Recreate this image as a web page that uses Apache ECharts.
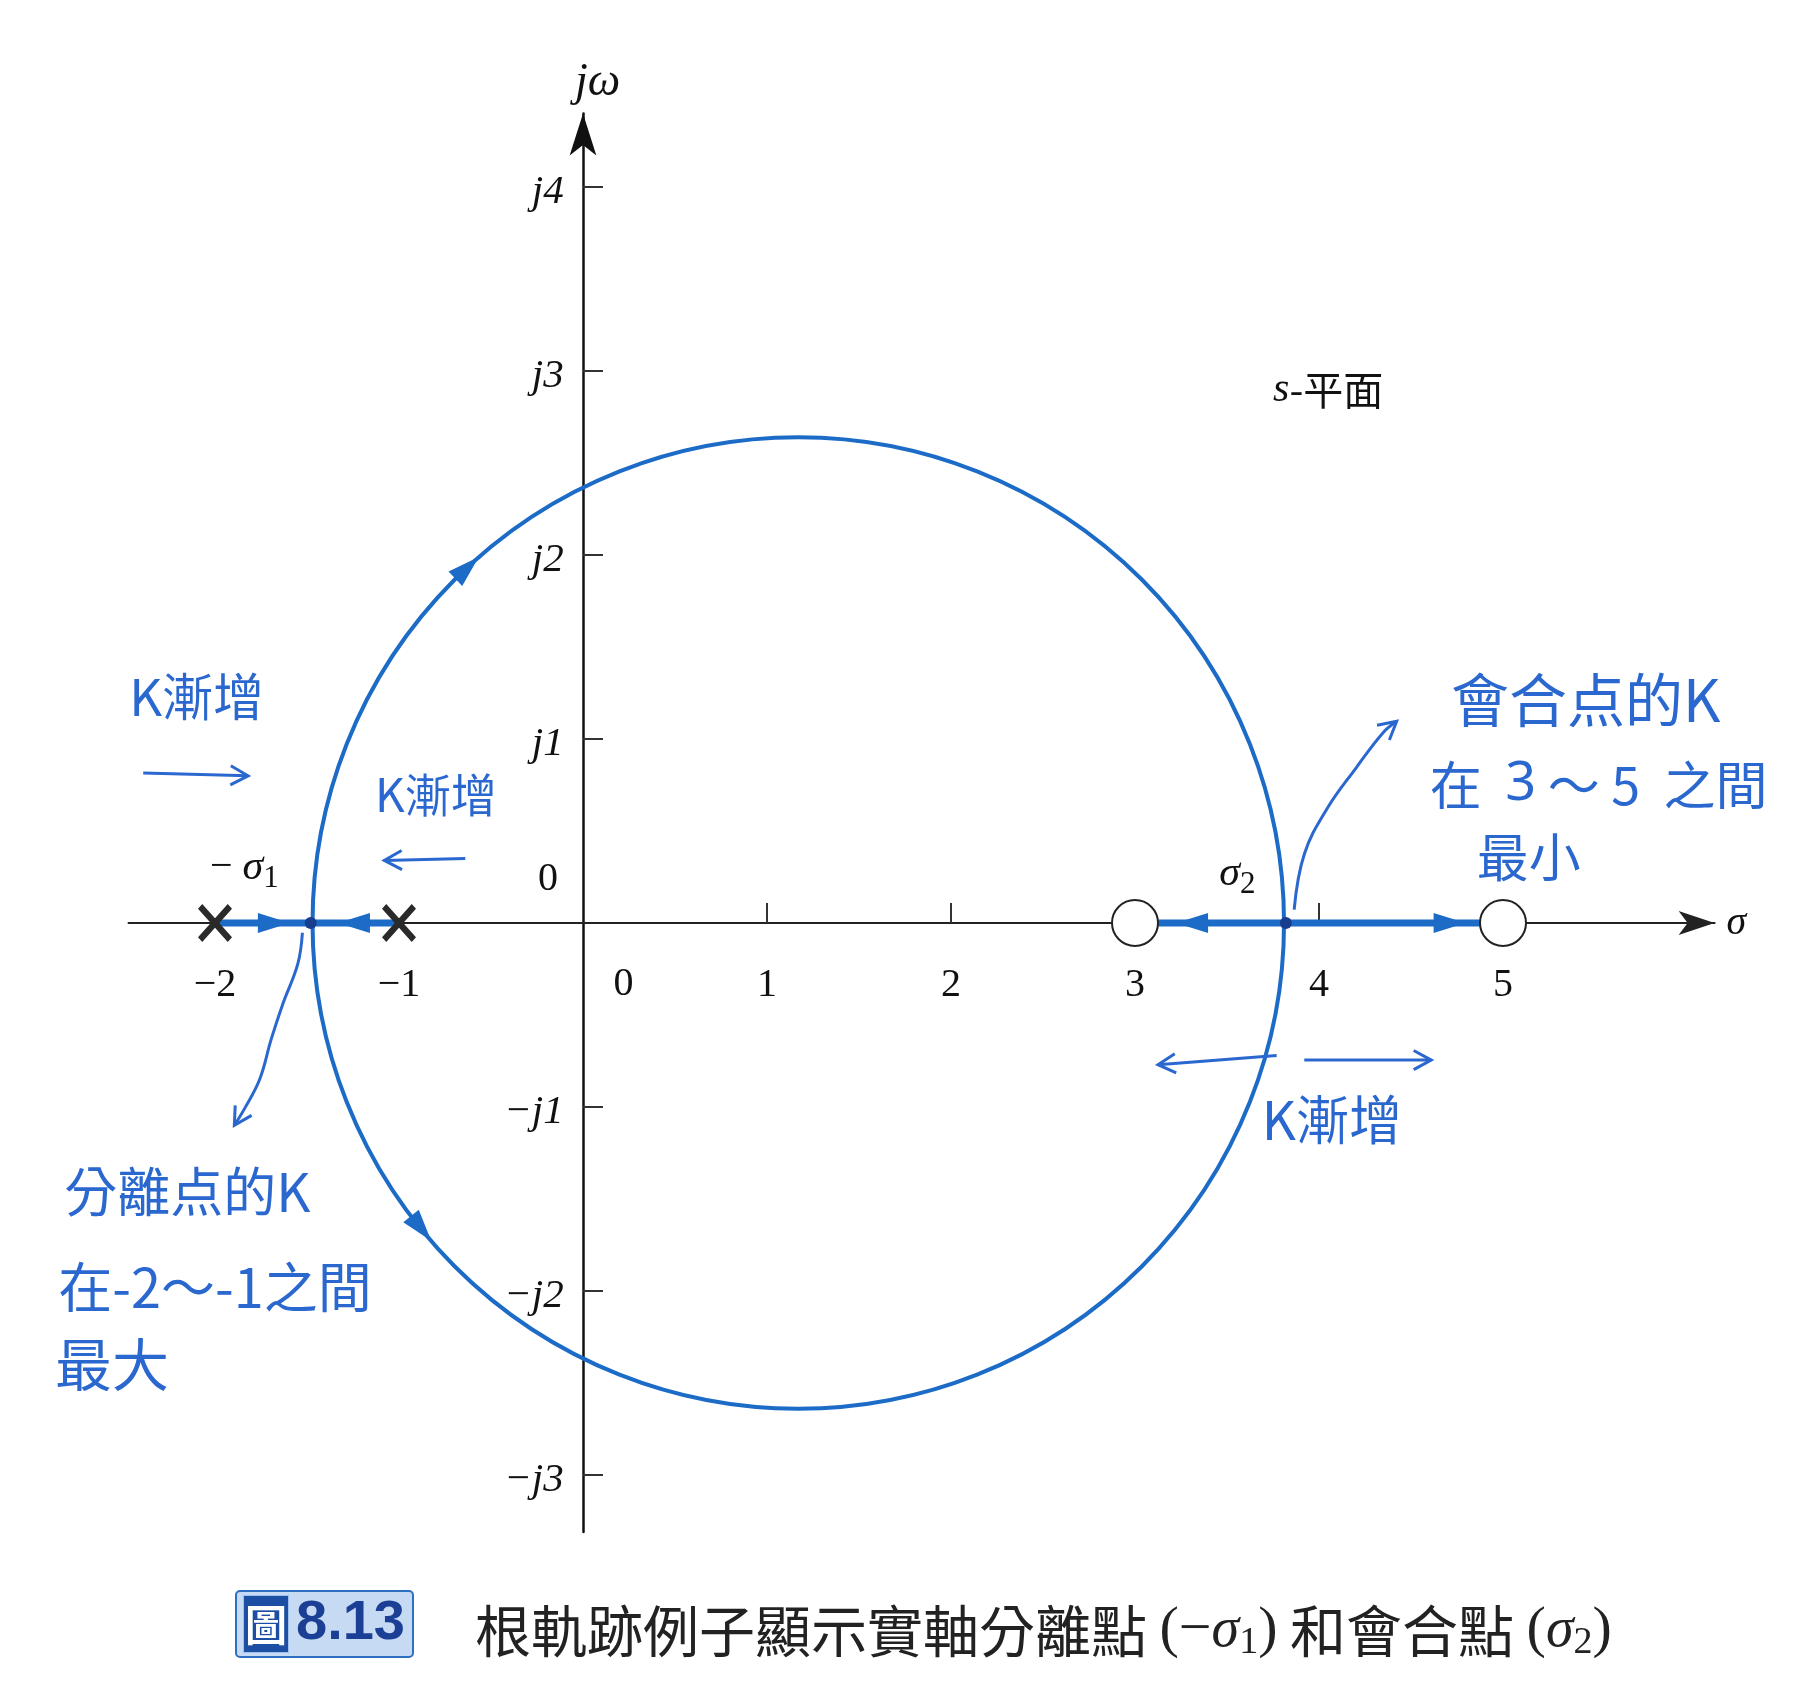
<!DOCTYPE html>
<html><head><meta charset="utf-8">
<script src="https://cdn.jsdelivr.net/npm/echarts@6/dist/echarts.min.js"></script>
<style>html,body{margin:0;padding:0;background:#fff}#c{width:1810px;height:1700px}</style>
</head><body><div id="c"></div>
<script>
// ---------- data ----------
const xRange = [-2.47, 6.15];
const yRange = [-3.31, 4.40];
const xTickValues = [1, 2, 4];
const xLabelValues = [-2, -1, 1, 2, 3, 4, 5];
const xLabelTexts = ['−2', '−1', '1', '2', '3', '4', '5'];
const yTickValues = [-3, -2, -1, 1, 2, 3, 4];
const yLabelTexts = ['−j3', '−j2', '−j1', 'j1', 'j2', 'j3', 'j4'];
const poles = [[-2, 0], [-1, 0]];
const zeros = [[3, 0], [5, 0]];
const breakPoints = [[-1.48, 0], [3.82, 0]];
const realLocusLeft = [[-2, 0], [-1, 0]];
const realLocusRight = [[3, 0], [5, 0]];
const locusCircle = [[1.17, 0, 2.64]];            // centre x, centre y, radius
const locusArrows = [                               // x, y, rotation (deg)
  [-1.68, 0, -90], [-1.245, 0, 90], [3.31, 0, 90], [4.71, 0, -90],
  [-0.63, 1.93, -47], [-0.88, -1.66, -141]
];
const printedLabelPos = [[-0.19, 0.236], [0.22, -0.335], [-1.84, 0.30], [3.556, 0.267], [4.05, 2.896], [0.08, 4.565]];
const printedLabels = ['0', '0', '− {s|σ}{sub|1}', '{s|σ}{sub|2}', '{s|s}-平面', '{s|jω}'];
const noteTextPos = [[-2.10, 1.23], [-0.80, 0.70], [5.45, 1.21], [5.52, 0.75], [5.14, 0.36],
  [-2.15, -1.46], [-2.00, -1.98], [-2.56, -2.40], [4.07, -1.07]];
const noteTexts = ['K漸增', 'K漸增', '會合点的K', '在  {t|3} ～ 5  之間', '最小',
  '分離点的K', '在-2～-1之間', '最大', 'K漸增'];
const noteStrokes = [
  [[-2.39, 0.815], [-1.82, 0.80]],
  [[-0.64, 0.35], [-1.08, 0.34]],
  [[3.77, -0.72], [3.125, -0.77]],
  [[3.92, -0.745], [4.61, -0.745]],
  [[3.865, 0.073], [3.92, 0.374], [4.046, 0.625], [4.203, 0.845], [4.347, 1.033], [4.422, 1.096]],
  [[-1.525, -0.053], [-1.55, -0.222], [-1.632, -0.441], [-1.694, -0.63], [-1.757, -0.849], [-1.838, -1.006], [-1.895, -1.1]]
];
const captionTag = '{a|圖}{b|8.13}';
const captionText = '根軌跡例子顯示實軸分離點 {p|(−}{s|σ}{sub|1}{p|)} 和會合點 {p|(}{s|σ}{sub|2}{p|)}';

// ---------- styles ----------
const BLUE = '#1b6bc7';
const HAND = '#2a68cf';
const SERIF = "'Liberation Serif','DejaVu Serif',serif";
const CJK = "'Noto Sans CJK TC','Noto Sans CJK SC',sans-serif";
const noteSizes = [51, 46, 58, 52, 52, 53, 54, 57, 53];
const serifRich = {
  s: { fontFamily: SERIF, fontStyle: 'italic', fontSize: 42, color: '#111' },
  sub: { fontFamily: SERIF, fontSize: 31, color: '#111', padding: [22, 0, 0, 0] }
};

const chart = echarts.init(document.getElementById('c'), null, { renderer: 'canvas' });
const U = 184;
const gridLeft = 583 + xRange[0] * U;
const gridTop = 923 - yRange[1] * U;

function textSeries(name, positions, texts, styleFn) {
  return {
    type: 'custom', name: name, z: 9, clip: false,
    data: positions.map((p, i) => [p[0], p[1], i]), encode: { x: 0, y: 1 },
    renderItem: (params, api) => {
      const i = api.value(2);
      const c = api.coord([api.value(0), api.value(1)]);
      return { type: 'text', x: c[0], y: c[1], style: Object.assign({ text: texts[i] }, styleFn(i)) };
    }
  };
}

chart.setOption({
  animation: false,
  backgroundColor: '#fff',
  title: [
    {
      text: captionTag, left: 237, top: 1589,
      backgroundColor: '#c6daf3', borderColor: '#2f6fc0', borderWidth: 2, borderRadius: 4,
      padding: [4, 8, 4, 7],
      textStyle: {
        rich: {
          a: { backgroundColor: '#1c4ea3', color: '#fff', fontSize: 42, fontFamily: CJK, fontWeight: 'bold', padding: [8, 1, 6, 1], lineHeight: 62, borderColor: '#9fc0ea', borderWidth: 1 },
          b: { color: '#1c3f96', fontSize: 56, fontWeight: 'bold', fontFamily: "'Liberation Sans Narrow','Liberation Sans',sans-serif", padding: [0, 0, 0, 8], lineHeight: 62 }
        }
      }
    },
    {
      text: captionText, left: 470, top: 1594,
      textStyle: {
        fontFamily: CJK, fontSize: 56, fontWeight: 'normal', color: '#222', lineHeight: 64,
        rich: {
          p: { fontFamily: SERIF, fontSize: 58, color: '#222', lineHeight: 64 },
          s: { fontFamily: SERIF, fontStyle: 'italic', fontSize: 56, color: '#222', lineHeight: 64 },
          sub: { fontFamily: SERIF, fontSize: 38, color: '#222', padding: [24, 0, 0, 0], lineHeight: 64 }
        }
      }
    }
  ],
  grid: {
    left: gridLeft, top: gridTop,
    width: (xRange[1] - xRange[0]) * U, height: (yRange[1] - yRange[0]) * U,
    containLabel: false, outerBoundsMode: 'none'
  },
  xAxis: {
    type: 'value', min: xRange[0], max: xRange[1],
    name: 'σ', nameLocation: 'end', nameGap: 12,
    nameTextStyle: { fontFamily: SERIF, fontStyle: 'italic', fontSize: 40, color: '#111', verticalAlign: 'middle', align: 'left' },
    axisLine: { show: true, onZero: true, symbol: ['none', 'arrow'], symbolSize: [18, 36], lineStyle: { color: '#222', width: 2 } },
    axisTick: { show: true, inside: true, length: 20, customValues: xTickValues, lineStyle: { color: '#333', width: 2 } },
    axisLabel: { show: false },
    splitLine: { show: false }
  },
  yAxis: {
    type: 'value', min: yRange[0], max: yRange[1],
    axisLine: { show: true, onZero: true, symbol: ['none', 'arrow'], symbolSize: [20, 42], lineStyle: { color: '#111', width: 2.5 } },
    axisTick: { show: true, inside: true, length: 20, customValues: yTickValues, lineStyle: { color: '#333', width: 2 } },
    axisLabel: { show: false },
    splitLine: { show: false }
  },
  series: [
    {
      type: 'custom', name: 'locusCircle', data: locusCircle, encode: { x: 0, y: 1 }, z: 3, clip: false,
      renderItem: (params, api) => {
        const c = api.coord([api.value(0), api.value(1)]);
        const r = api.size([api.value(2), 0])[0];
        return { type: 'circle', shape: { cx: c[0], cy: c[1], r: r }, style: { fill: 'none', stroke: BLUE, lineWidth: 4 } };
      }
    },
    { type: 'line', data: realLocusLeft, symbol: 'none', z: 4, lineStyle: { color: BLUE, width: 7 } },
    { type: 'line', data: realLocusRight, symbol: 'none', z: 4, lineStyle: { color: BLUE, width: 7 } },
    {
      type: 'scatter', data: locusArrows, z: 5, symbol: 'triangle', symbolSize: [20, 32],
      symbolRotate: v => v[2], itemStyle: { color: BLUE, opacity: 1 }
    },
    {
      type: 'scatter', data: breakPoints, z: 6, symbol: 'circle', symbolSize: 12,
      itemStyle: { color: '#173d8f', opacity: 1 }
    },
    {
      type: 'scatter', data: poles, z: 7, symbolSize: [34, 38],
      symbol: 'path://M0,2.5L2.5,0L10,7.5L17.5,0L20,2.5L12.5,10L20,17.5L17.5,20L10,12.5L2.5,20L0,17.5L7.5,10Z',
      itemStyle: { color: '#2a2a2a', opacity: 1 }
    },
    {
      type: 'scatter', data: zeros, z: 7, symbol: 'circle', symbolSize: 46,
      itemStyle: { color: '#fff', borderColor: '#222', borderWidth: 2, opacity: 1 }
    },
    textSeries('xLabels', xLabelValues.map(v => [v, -0.34]), xLabelTexts, () => ({
      fill: '#111', align: 'center', verticalAlign: 'middle', fontFamily: SERIF, fontSize: 40
    })),
    textSeries('yLabels', yTickValues.map(v => [-0.105, v - 0.03]), yLabelTexts, () => ({
      fill: '#111', align: 'right', verticalAlign: 'middle', fontFamily: SERIF, fontStyle: 'italic', fontSize: 41
    })),
    textSeries('printed', printedLabelPos, printedLabels, i => ({
      fill: '#111', align: 'center', verticalAlign: 'middle',
      fontFamily: i === 4 ? CJK : SERIF, fontSize: i === 4 ? 40 : 40,
      rich: i === 5 ? { s: { fontFamily: SERIF, fontStyle: 'italic', fontSize: 46, color: '#111' } } : serifRich
    })),
    textSeries('notes', noteTextPos, noteTexts, i => ({
      fill: HAND, align: 'center', verticalAlign: 'middle', fontFamily: CJK, fontSize: noteSizes[i],
      rich: { t: { fontFamily: "'Noto Sans','DejaVu Sans',sans-serif", fontSize: 54, color: '#1f4fd6' } }
    })),
    {
      type: 'custom', name: 'strokes', z: 9, clip: false,
      data: noteStrokes.map((s, i) => [s[0][0], s[0][1], i]), encode: { x: 0, y: 1 },
      renderItem: (params, api) => {
        const s = noteStrokes[api.value(2)];
        const pts = s.map(p => api.coord(p));
        const a = pts[pts.length - 1], b = pts[pts.length - 2];
        const ang = Math.atan2(a[1] - b[1], a[0] - b[0]);
        const L = 20, sp = 0.5;
        const p1 = [a[0] - L * Math.cos(ang - sp), a[1] - L * Math.sin(ang - sp)];
        const p2 = [a[0] - L * Math.cos(ang + sp), a[1] - L * Math.sin(ang + sp)];
        return {
          type: 'group', children: [
            { type: 'polyline', shape: { points: pts, smooth: 0.4 }, style: { stroke: HAND, lineWidth: 3, fill: 'none' } },
            { type: 'polyline', shape: { points: [p1, a, p2] }, style: { stroke: HAND, lineWidth: 3, fill: 'none' } }
          ]
        };
      }
    }
  ]
});
</script></body></html>
